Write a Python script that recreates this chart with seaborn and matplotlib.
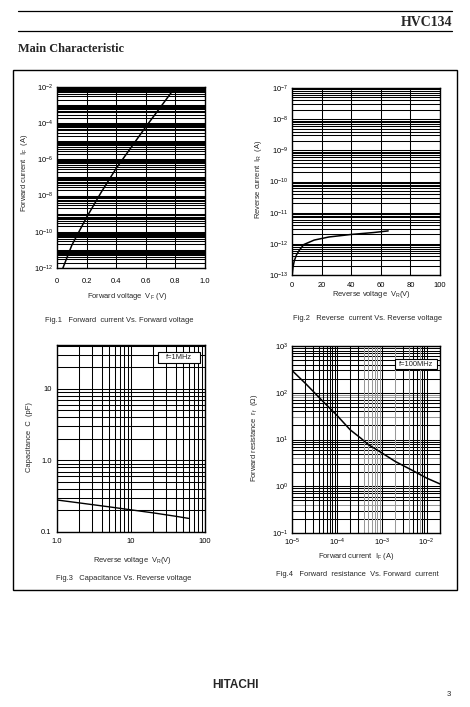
import matplotlib
matplotlib.use("Agg")
import matplotlib.pyplot as plt
import seaborn as sns
from matplotlib.patches import Rectangle
from matplotlib.lines import Line2D

# Fig.1 forward current vs forward voltage
vf = [0.04, 0.1, 0.2, 0.3, 0.4, 0.5, 0.6, 0.7, 0.8]
i_f = [1e-12, 1.8e-11, 6.3e-10, 1.6e-8, 3.2e-7, 4.5e-6, 6.3e-5, 7.9e-4, 1e-2]

# Fig.2 reverse current vs reverse voltage
vr = [0.2, 0.7, 1.5, 3, 5, 8, 15, 25, 40, 55, 65]
i_r = [1.05e-13, 1.8e-13, 2.8e-13, 4.4e-13, 6.3e-13, 9.5e-13, 1.32e-12, 1.66e-12, 2.0e-12, 2.3e-12, 2.6e-12]

# Fig.3 capacitance vs reverse voltage
vr3 = [1, 2, 5, 10, 20, 40, 60]
cap = [0.28, 0.255, 0.225, 0.204, 0.185, 0.166, 0.155]

# Fig.4 forward resistance vs forward current
if4 = [1e-5, 2e-5, 5e-5, 1e-4, 2e-4, 3.5e-4, 5e-4, 1e-3, 2e-3, 5e-3, 1e-2, 2e-2]
rf = [300, 158, 64, 33, 16, 10.5, 7.8, 5.2, 3.4, 2.15, 1.5, 1.12]

fig1_xt = [0, 0.2, 0.4, 0.6, 0.8, 1.0]
fig1_xl = ["0", "0.2", "0.4", "0.6", "0.8", "1.0"]
fig2_xt = [0, 20, 40, 60, 80, 100]
fig2_xl = ["0", "20", "40", "60", "80", "100"]

sns.set_style("white")
plt.rcParams["font.family"] = ["Liberation Sans", "DejaVu Sans"]
plt.rcParams["mathtext.fontset"] = "custom"
plt.rcParams["mathtext.rm"] = "Liberation Sans"
plt.rcParams["mathtext.it"] = "Liberation Sans:italic"
plt.rcParams["mathtext.bf"] = "Liberation Sans:bold"

W, H = 470, 707
fig = plt.figure(figsize=(W / 100, H / 100), dpi=100)
FS = 5.4


def rect(x0, y0, x1, y1):
    return [x0 / W, 1 - y1 / H, (x1 - x0) / W, (y1 - y0) / H]


def txt(x, y, s, **kw):
    kw.setdefault("fontsize", FS)
    kw.setdefault("ha", "center")
    kw.setdefault("va", "center")
    fig.text(x / W, 1 - y / H, s, **kw)


def logpos(lo, hi):
    out = []
    for e in range(lo, hi):
        for m in range(1, 10):
            out.append(m * 10.0 ** e)
    out.append(10.0 ** hi)
    return out


def hgrid(ax, ys, gray=()):
    for y in ys:
        g = any(abs(y - q) / q < 1e-6 for q in gray)
        ax.axhline(y, color="#999999" if g else "black", lw=0.75, zorder=1)


def vgrid(ax, xs, gray=()):
    for x in xs:
        g = any(abs(x - q) / q < 1e-6 for q in gray)
        ax.axvline(x, color="#999999" if g else "black", lw=0.75, zorder=1)


def style(ax):
    for s in ax.spines.values():
        s.set_color("black")
        s.set_linewidth(1.0)
        s.set_zorder(3)
    ax.tick_params(length=0, labelsize=FS, colors="black")
    ax.minorticks_off()
    ax.set_xlabel("")
    ax.set_ylabel("")


# ---- Fig 1
ax1 = fig.add_axes(rect(57, 87, 205, 268))
ax1.set_yscale("log")
hgrid(ax1, logpos(-12, -2))
vgrid(ax1, [0.2, 0.4, 0.6, 0.8])
sns.lineplot(x=vf, y=i_f, ax=ax1, color="black", lw=1.1, estimator=None, sort=False, zorder=2)
ax1.set_xlim(0, 1.0)
ax1.set_ylim(1e-12, 1e-2)
ax1.set_xticks(fig1_xt, fig1_xl)
ax1.set_yticks([10.0 ** e for e in range(-12, -1, 2)],
               [r"$10^{%d}$" % e for e in range(-12, -1, 2)])
style(ax1)
ax1.tick_params(axis="x", pad=7)
ax1.tick_params(axis="y", pad=3)

# ---- Fig 2
ax2 = fig.add_axes(rect(292, 88, 440, 275))
ax2.set_yscale("log")
hgrid(ax2, logpos(-13, -7))
vgrid(ax2, [20, 40, 60, 80])
sns.lineplot(x=vr, y=i_r, ax=ax2, color="black", lw=1.1, estimator=None, sort=False, zorder=2)
ax2.set_xlim(0, 100)
ax2.set_ylim(1e-13, 1e-7)
ax2.set_xticks(fig2_xt, fig2_xl)
ax2.set_yticks([10.0 ** e for e in range(-13, -6)],
               [r"$10^{%d}$" % e for e in range(-13, -6)])
style(ax2)
ax2.tick_params(axis="x", pad=5)
ax2.tick_params(axis="y", pad=3)

# ---- Fig 3
ax3 = fig.add_axes(rect(57, 345, 205, 532))
ax3.set_xscale("log")
ax3.set_yscale("log")
hgrid(ax3, logpos(-1, 1) + [20, 30, 40])
vgrid(ax3, logpos(0, 2))
sns.lineplot(x=vr3, y=cap, ax=ax3, color="black", lw=1.0, estimator=None, sort=False, zorder=2)
ax3.set_xlim(1, 100)
ax3.set_ylim(0.1, 41)
ax3.set_xticks([1, 10, 100], ["1.0", "10", "100"])
ax3.set_yticks([0.1, 1, 10], ["0.1", "1.0", "10"])
style(ax3)
ax3.tick_params(axis="x", pad=4)
ax3.tick_params(axis="y", pad=4)

# ---- Fig 4
ax4 = fig.add_axes(rect(292, 346, 440, 533))
ax4.set_xscale("log")
ax4.set_yscale("log")
hgrid(ax4, logpos(-1, 3), gray=[0.4, 4, 30, 80, 90])
vgrid(ax4, logpos(-5, -2) + [2e-2],
      gray=[4e-4, 5e-4, 6e-4, 7e-4, 8e-4, 9e-4, 2e-3, 4e-3, 7e-3])
sns.lineplot(x=if4, y=rf, ax=ax4, color="black", lw=1.1, estimator=None, sort=False, zorder=2)
ax4.set_xlim(1e-5, 2e-2)
ax4.set_ylim(0.1, 1000)
ax4.set_xticks([1e-5, 1e-4, 1e-3, 1e-2],
               [r"$10^{-5}$", r"$10^{-4}$", r"$10^{-3}$", r"$10^{-2}$"])
ax4.set_yticks([0.1, 1, 10, 100, 1000],
               [r"$10^{-1}$", r"$10^{0}$", r"$10^{1}$", r"$10^{2}$", r"$10^{3}$"])
style(ax4)
ax4.tick_params(axis="x", pad=3)
ax4.tick_params(axis="y", pad=3)

# condition boxes
for (x0, y0, x1, y1, s) in [(158, 352, 200, 363, "f=1MHz"), (395, 359, 437, 369, "f=100MHz")]:
    fig.add_artist(Rectangle((x0 / W, 1 - y1 / H), (x1 - x0) / W, (y1 - y0) / H,
                             transform=fig.transFigure, facecolor="white",
                             edgecolor="black", lw=0.8, zorder=5))
    fig.text((x0 + x1) / 2 / W, 1 - (y0 + y1) / 2 / H, s, fontsize=FS,
             ha="center", va="center", zorder=6)

# axis labels
txt(127, 296, r"Forward voltage  V$_{\rm F}$ (V)")
txt(371, 295, r"Reverse voltage  V$_{\rm R}$(V)")
txt(132, 560, r"Reverse voltage  V$_{\rm R}$(V)")
txt(356, 557, r"Forward current  I$_{\rm F}$ (A)")
txt(25, 173, r"Forward current  I$_{\rm F}$  (A)", rotation=90)
txt(258, 179, r"Reverse current  I$_{\rm R}$  (A)", rotation=90)
txt(30, 437, "Capacitance  C  (pF)", rotation=90)
txt(255, 438, r"Forward resistance  r$_{\rm f}$  ($\Omega$)", rotation=90)

# captions
txt(119, 320, "Fig.1   Forward  current Vs. Forward voltage")
txt(368, 318, "Fig.2   Reverse  current Vs. Reverse voltage")
txt(124, 578, "Fig.3   Capacitance Vs. Reverse voltage")
txt(357, 575, "Fig.4   Forward  resistance  Vs. Forward  current")

# page header / frame
for y in (10.5, 30.5):
    fig.add_artist(Line2D([18 / W, 452 / W], [1 - y / H, 1 - y / H],
                          transform=fig.transFigure, color="black", lw=0.9))
txt(452, 22.5, "HVC134", fontsize=10, ha="right", family="Liberation Serif", weight="bold")
txt(18, 49, "Main Characteristic", fontsize=8.8, ha="left", family="Liberation Serif", weight="bold")
fig.add_artist(Rectangle((12.5 / W, 1 - 590 / H), 444.5 / W, 520 / H,
                         transform=fig.transFigure, fill=False, edgecolor="black", lw=1.0))
txt(236, 685, "HITACHI", fontsize=8.5, weight="heavy")
txt(449, 694, "3", fontsize=5.5)

fig.savefig("out.png", dpi=100)
